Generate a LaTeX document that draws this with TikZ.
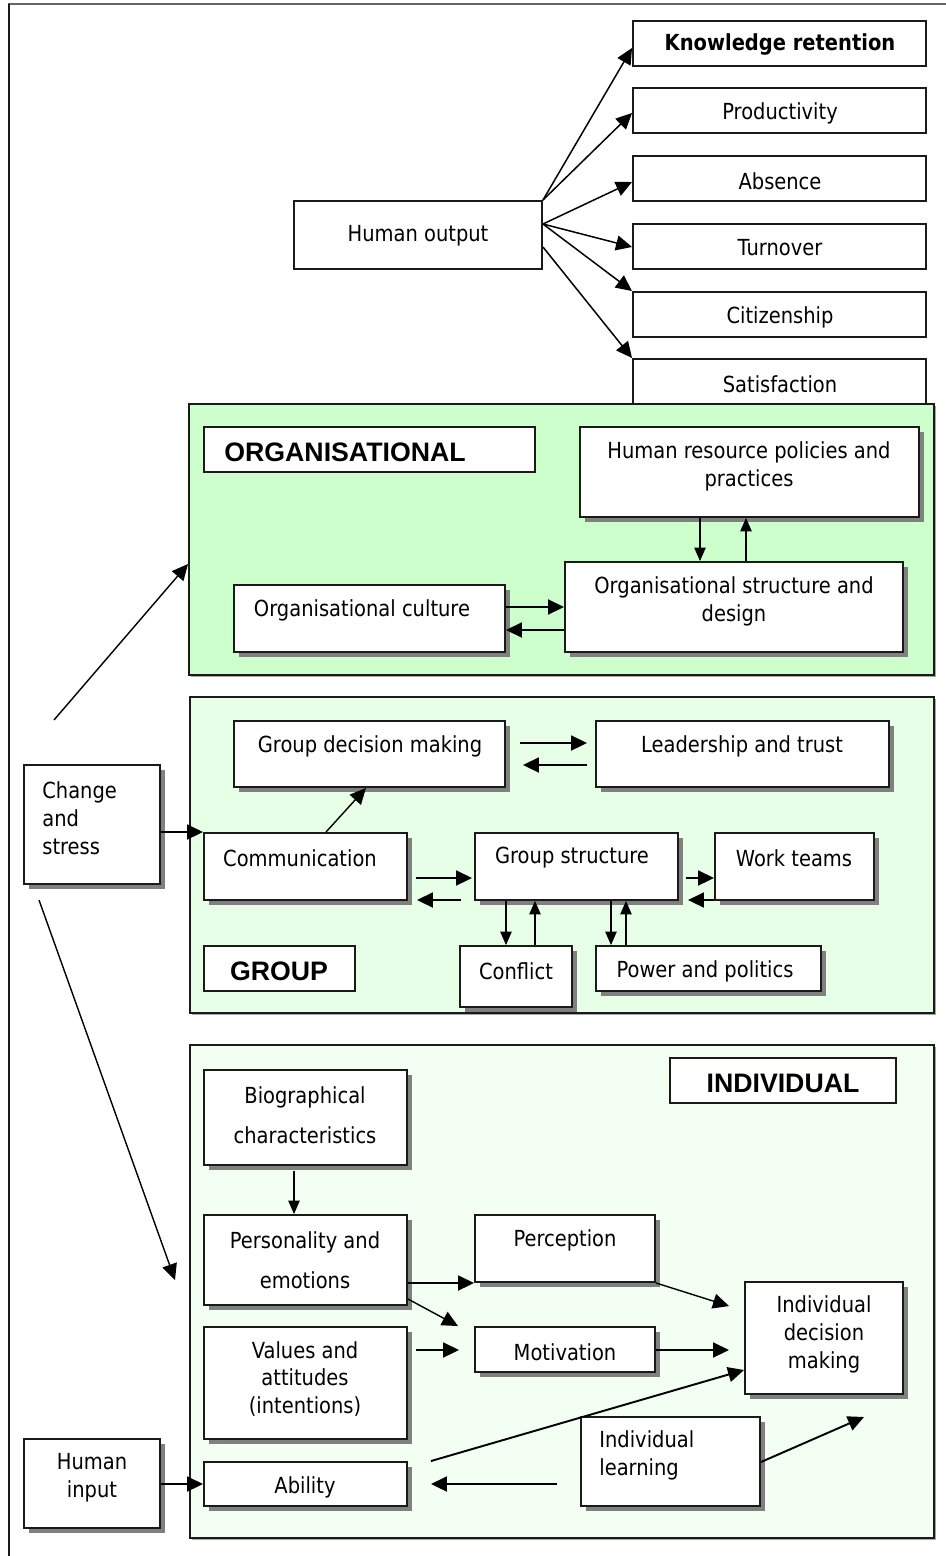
\documentclass[tikz,border=0pt]{standalone}
\usepackage{fontspec}
\setmainfont{DejaVu Sans}[FakeStretch=0.88]
\newfontfamily\headfont{Liberation Sans}
\usetikzlibrary{arrows.meta,fit,calc}

\definecolor{orgfill}{HTML}{CCFFCC}
\definecolor{grpfill}{HTML}{E6FFE6}
\definecolor{indfill}{HTML}{F2FFF2}
\definecolor{shade}{HTML}{808080}
\definecolor{edge}{HTML}{1A1A1A}

\tikzset{
  box/.style={draw=edge, line width=1.1pt, fill=white, inner sep=0pt},
  shadowed/.style={preaction={draw=none, fill=shade,
      transform canvas={xshift=0.1cm, yshift=-0.1cm}}},
  panel/.style={draw=edge, line width=1.1pt, inner sep=0pt,
      preaction={draw=none, fill=shade!70,
      transform canvas={xshift=0.04cm, yshift=-0.04cm}}},
  txt/.style={inner sep=0pt, align=center, font=\fontsize{12.6}{15.9}\selectfont},
  btxt/.style={txt, font=\fontsize{12.6}{15.9}\selectfont\bfseries},
  head/.style={inner sep=0pt, font=\headfont\bfseries\fontsize{15.2}{18}\selectfont},
  arr/.style={draw=black, line width=1.1pt, -{Triangle[length=0.32cm,width=0.3cm]}},
  slim/.style={draw=black, line width=0.8pt, -{Triangle[length=0.32cm,width=0.3cm]}},
  thinarr/.style={draw=black, line width=0.6pt, -{Triangle[length=0.27cm,width=0.23cm]}},
}

% box given by its corners, in pixel units
\newcommand\boxat[6]{\node[#1, fit={(#3,#4)(#5,#6)}] (#2) {};}

\begin{document}
\begin{tikzpicture}[x=0.02cm, y=-0.02cm]
\useasboundingbox (0,0) rectangle (946,1556);

% page frame
\draw[line width=1.1pt, draw=black!60] (946,4) -- (8,4);
\draw[line width=1.1pt, draw=edge] (9,4) -- (9,1556);

% ---------- outputs ----------
\boxat{box}{ho}{294}{201}{542}{269}
\boxat{box}{kr}{633}{21}{926}{66}
\boxat{box}{prod}{633}{88}{926}{133}
\boxat{box}{abs}{633}{156}{926}{201}
\boxat{box}{turn}{633}{224}{926}{269}
\boxat{box}{cit}{633}{292}{926}{337}
\boxat{box}{sat}{633}{359}{926}{412}

\draw[arr, line width=0.85pt] (ho.north east) -- (kr.west |- 0,48);
\draw[arr, line width=0.85pt] (ho.north east) -- (prod.west |- 0,113);
\draw[arr, line width=0.85pt] (ho.east |- 0,224) -- (abs.west |- 0,182);
\draw[arr, line width=0.85pt] (ho.east |- 0,224) -- (turn.west |- 0,247);
\draw[arr, line width=0.85pt] (ho.east |- 0,224) -- (cit.north west);
\draw[arr, line width=0.85pt] (ho.east |- 0,247) -- (sat.north west);

% ---------- panels ----------
\boxat{panel, fill=orgfill}{org}{189}{404}{934}{675}
\boxat{panel, fill=grpfill}{grp}{190}{697}{934}{1013}
\boxat{panel, fill=indfill}{ind}{190}{1045}{934}{1538}

% ---------- organisational ----------
\boxat{box}{orglab}{204}{427}{535}{472}
\boxat{box, shadowed}{hr}{580}{427}{919}{517}
\boxat{box, shadowed}{cult}{234}{585}{505}{652}
\boxat{box, shadowed}{st}{565}{562}{903}{652}

\draw[thinarr] (700,0 |- hr.south) -- (700,0 |- st.north);
\draw[thinarr] (746,0 |- st.north) -- (746,0 |- hr.south);
\draw[arr] (cult.east |- 0,607) -- (st.west |- 0,607);
\draw[arr] (st.west |- 0,630) -- (cult.east |- 0,630);

% ---------- external inputs ----------
\boxat{box, shadowed}{cs}{24}{765}{160}{884}
\boxat{box, shadowed}{hi}{24}{1439}{160}{1528}
\coordinate (csup) at (54,720);
\coordinate (csdown) at (39,900);
\coordinate (indtip) at (175,1280);

% ---------- group ----------
\boxat{box, shadowed}{gdm}{234}{721}{505}{787}
\boxat{box, shadowed}{lead}{596}{721}{889}{787}
\boxat{box, shadowed}{comm}{204}{833}{407}{900}
\boxat{box, shadowed}{gs}{475}{833}{678}{900}
\boxat{box, shadowed}{wt}{715}{833}{874}{900}
\boxat{box}{grplab}{204}{946}{355}{991}
\boxat{box, shadowed}{conf}{460}{946}{572}{1007}
\boxat{box, shadowed}{pow}{596}{946}{821}{991}

\draw[slim] (csup) -- (org.west |- 0,564);
\draw[arr] (cs.east |- 0,832) -- (comm.west |- 0,832);
\draw[slim] (csdown) -- (indtip);

\draw[arr, shorten <=0.28cm, shorten >=0.16cm] (gdm.east |- 0,743) -- (lead.west |- 0,743);
\draw[arr, shorten <=0.16cm, shorten >=0.34cm] (lead.west |- 0,765) -- (gdm.east |- 0,765);
\draw[slim] (326,0 |- comm.north) -- (366,0 |- gdm.south);
\draw[arr, shorten <=0.16cm, shorten >=0.04cm] (comm.east |- 0,878) -- (gs.west |- 0,878);
\draw[arr, shorten <=0.26cm, shorten >=0.18cm] (gs.west |- 0,900) -- (comm.east |- 0,900);
\draw[arr, shorten <=0.14cm] (gs.east |- 0,878) -- (wt.west |- 0,878);
\draw[arr, shorten >=0.18cm] (wt.west |- 0,900) -- (gs.east |- 0,900);
\draw[thinarr] (506,0 |- gs.south) -- (506,0 |- conf.north);
\draw[thinarr] (535,0 |- conf.north) -- (535,0 |- gs.south);
\draw[thinarr] (611,0 |- gs.south) -- (611,0 |- pow.north);
\draw[thinarr] (626,0 |- pow.north) -- (626,0 |- gs.south);

% ---------- individual ----------
\boxat{box}{indlab}{670}{1058}{896}{1103}
\boxat{box, shadowed}{bio}{204}{1070}{407}{1165}
\boxat{box, shadowed}{pers}{204}{1215}{407}{1305}
\boxat{box, shadowed}{perc}{475}{1215}{655}{1282}
\boxat{box, shadowed}{val}{204}{1327}{407}{1439}
\boxat{box, shadowed}{mot}{475}{1327}{655}{1372}
\boxat{box, shadowed}{idm}{745}{1282}{903}{1394}
\boxat{box, shadowed}{learn}{581}{1417}{760}{1506}
\boxat{box, shadowed}{abil}{204}{1462}{407}{1506}
\coordinate (learntip) at (864,1417);

\draw[thinarr, shorten <=0.1cm] (294,0 |- bio.south) -- (294,0 |- pers.north);
\draw[arr] (pers.east |- 0,1283) -- (perc.west |- 0,1283);
\draw[slim] (pers.east |- 0,1299) -- ($(mot.north west)+(-16,0)$);
\draw[arr, shorten <=0.16cm, shorten >=0.3cm] (val.east |- 0,1350) -- (mot.west |- 0,1350);
\draw[slim] (perc.south east) -- ($(idm.north west)+(-15,25)$);
\draw[arr, shorten >=0.3cm] (mot.east |- 0,1350) -- (idm.west |- 0,1350);
\draw[arr] ($(abil.north east)+(23,0)$) -- (idm.west |- 0,1370);
\draw[arr] (learn.east |- 0,1462) -- (learntip);
\draw[arr, shorten <=0.46cm, shorten >=0.46cm] (learn.west |- 0,1484) -- (abil.east |- 0,1484);
\draw[arr] (hi.east |- 0,1484) -- (abil.west |- 0,1484);

% ---------- texts ----------
\node[btxt] (t-kr) at (780,44) {Knowledge retention};
\node[txt] (t-prod) at (780,113) {Productivity};
\node[txt] (t-abs) at (780,181) {Absence};
\node[txt] (t-turn) at (780,248) {Turnover};
\node[txt] (t-cit) at (780,317) {Citizenship};
\node[txt] (t-sat) at (780,384) {Satisfaction};
\node[txt] (t-ho) at (418,236) {Human output};

\node[head, anchor=west] (t-org) at (224,452) {ORGANISATIONAL};
\node[txt] (t-hr) at (749,466) {Human resource policies and\\practices};
\node[txt] (t-cult) at (362,610) {Organisational culture};
\node[txt] (t-st) at (734,601) {Organisational structure and\\design};

\node[txt, align=left, anchor=west] (t-cs) at (42,818) {Change\\and\\stress};
\node[txt] (t-hi) at (92,1478) {Human\\input};

\node[txt] (t-gdm) at (370,746) {Group decision making};
\node[txt] (t-lead) at (742,746) {Leadership and trust};
\node[txt] (t-comm) at (300,858) {Communication};
\node[txt] (t-gs) at (572,858) {Group structure};
\node[txt] (t-wt) at (794,858) {Work teams};
\node[head] (t-grp) at (279,971) {GROUP};
\node[txt] (t-conf) at (516,971) {Conflict};
\node[txt] (t-pow) at (705,971) {Power and politics};

\node[head] (t-ind) at (783,1083) {INDIVIDUAL};
\node[txt] (t-bio) at (305,1115) {Biographical\\[6.8pt]characteristics};
\node[txt] (t-pers) at (305,1260) {Personality and\\[6.8pt]emotions};
\node[txt] (t-perc) at (565,1240) {Perception};
\node[txt] (t-val) at (305,1379) {Values and\\attitudes\\(intentions)};
\node[txt] (t-mot) at (565,1352) {Motivation};
\node[txt] (t-idm) at (824,1334) {Individual\\decision\\making};
\node[txt, align=left, anchor=west] (t-learn) at (599,1455) {Individual\\learning};
\node[txt] (t-abil) at (305,1487) {Ability};
\end{tikzpicture}
\end{document}
